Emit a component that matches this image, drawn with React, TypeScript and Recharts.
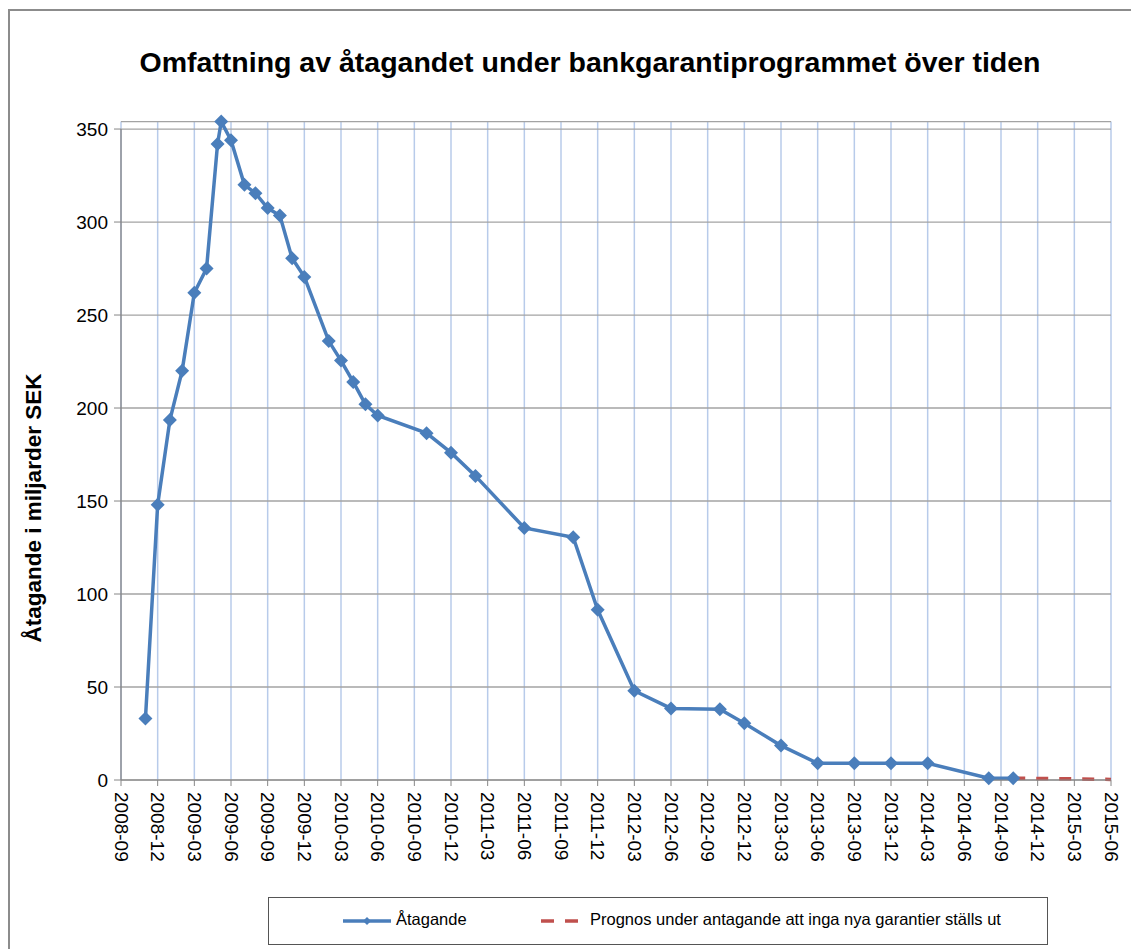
import React from 'react'
import {
  LineChart,
  Line,
  XAxis,
  YAxis,
  CartesianGrid,
  ReferenceLine
} from 'recharts'

// keep the page from getting scrollbars (frame runs to the window edge)
if (typeof document !== 'undefined') {
  document.documentElement.style.overflow = 'hidden'
}

// months counted from 2008-09
const atagandeMonths = [
  2, 3, 4, 5, 6, 7, 7.9, 8.2, 9, 10.1, 11, 12, 13, 14, 15, 17, 18, 19, 20, 21,
  25, 27, 29, 33, 37, 39, 42, 45, 49, 51, 54, 57, 60, 63, 66, 71, 73
]
const atagandeValues = [
  33, 148, 193.5, 220, 262, 275, 342, 354, 344, 320, 315.5, 307.5, 303.5,
  280.5, 270.5, 236, 225.5, 214, 202, 196, 186.5, 176, 163.5, 135.5, 130.5,
  91.5, 48, 38.5, 38, 30.5, 18.5, 9, 9, 9, 9, 1, 1
]

const prognosMonths = [73, 75, 78, 81]
const prognosValues = [1, 0.8, 0.6, 0.3]

const tickLabels = [
  '2008-09', '2008-12', '2009-03', '2009-06', '2009-09', '2009-12',
  '2010-03', '2010-06', '2010-09', '2010-12', '2011-03', '2011-06',
  '2011-09', '2011-12', '2012-03', '2012-06', '2012-09', '2012-12',
  '2013-03', '2013-06', '2013-09', '2013-12', '2014-03', '2014-06',
  '2014-09', '2014-12', '2015-03', '2015-06'
]
const yTicks = [0, 50, 100, 150, 200, 250, 300, 350]

const BLUE = '#4a7ebb'
const RED = '#c0504d'
const FONT = '"Liberation Sans", Arial, sans-serif'

const atagandeData = atagandeMonths.map((m, i) => ({ m, v: atagandeValues[i] }))
const prognosData = prognosMonths.map((m, i) => ({ m, v: prognosValues[i] }))
const xTicks = tickLabels.map((_, i) => i * 3)

const Diamond = (props: any) => {
  const { cx, cy } = props
  if (cx == null || cy == null) return null
  const r = 7
  return (
    <polygon
      points={`${cx},${cy - r} ${cx + r},${cy} ${cx},${cy + r} ${cx - r},${cy}`}
      fill={BLUE}
    />
  )
}

const XTick = (props: any) => {
  const { x, y, payload } = props
  const ty = y + 4
  return (
    <text
      x={x}
      y={ty}
      transform={`rotate(90, ${x}, ${ty})`}
      textAnchor="start"
      dominantBaseline="central"
      fontSize={19}
      fontFamily={FONT}
      fill="#000"
    >
      {tickLabels[Math.round(payload.value / 3)]}
    </text>
  )
}

const YLabel = () => (
  <text
    x={25}
    y={500}
    transform="rotate(-90, 25, 500)"
    textAnchor="middle"
    dominantBaseline="central"
    fontSize={22.5}
    fontWeight="bold"
    fontFamily={FONT}
    fill="#000"
  >
    Åtagande i miljarder SEK
  </text>
)

const App = () => {
  return (
    <div style={{ position: 'relative', width: 1131, height: 941, fontFamily: FONT }}>
      {/* outer frame, only left and top edges are visible */}
      <div
        style={{
          position: 'absolute',
          left: 0,
          top: 1,
          width: 1131,
          height: 940,
          borderLeft: '2px solid #8c8c8c',
          borderTop: '2px solid #8c8c8c',
          boxSizing: 'border-box'
        }}
      />
      <div
        style={{
          position: 'absolute',
          left: 82,
          top: 37,
          width: 1000,
          textAlign: 'center',
          fontSize: 28.5,
          fontWeight: 'bold',
          lineHeight: '34px',
          whiteSpace: 'nowrap'
        }}
      >
        Omfattning av åtagandet under bankgarantiprogrammet över tiden
      </div>
      <div style={{ position: 'absolute', left: 0, top: 0 }}>
        <LineChart
          width={1131}
          height={870}
          margin={{ top: 113.6, right: 28, bottom: 8, left: 53 }}
        >
          <CartesianGrid horizontal={false} stroke="#b8cbea" strokeWidth={1.5} />
          <CartesianGrid vertical={false} stroke="#a3a3a3" strokeWidth={1.3} />
          <XAxis
            type="number"
            dataKey="m"
            domain={[0, 81]}
            ticks={xTicks}
            interval={0}
            height={90}
            stroke="#868686"
            tickSize={6}
            tick={<XTick />}
          />
          <YAxis
            type="number"
            domain={[0, 354]}
            ticks={yTicks}
            width={60}
            axisLine={false}
            tickSize={7}
            tickMargin={6}
            tickLine={{ stroke: '#868686' }}
            tick={{ fontSize: 19, fill: '#000', fontFamily: FONT }}
            label={{ content: () => <YLabel /> }}
          />
          <ReferenceLine
            segment={[{ x: 0, y: 0 }, { x: 0, y: 350 }]}
            stroke="#868686"
            strokeWidth={1.3}
          />
          <Line
            data={prognosData}
            dataKey="v"
            stroke={RED}
            strokeWidth={3.5}
            strokeDasharray="12 11"
            dot={false}
            isAnimationActive={false}
          />
          <Line
            data={atagandeData}
            dataKey="v"
            stroke={BLUE}
            strokeWidth={3.5}
            dot={<Diamond />}
            activeDot={false}
            isAnimationActive={false}
          />
        </LineChart>
      </div>
      {/* legend */}
      <div
        style={{
          position: 'absolute',
          left: 260,
          top: 889,
          width: 780,
          height: 48,
          border: '1px solid #555',
          boxSizing: 'border-box',
          fontSize: 16.5,
          color: '#000'
        }}
      >
        <svg
          width={60}
          height={16}
          style={{ position: 'absolute', left: 72, top: 15 }}
        >
          <line x1={2} y1={8} x2={50} y2={8} stroke={BLUE} strokeWidth={3.5} />
          <polygon points="26,4 30,8 26,12 22,8" fill={BLUE} />
        </svg>
        <span style={{ position: 'absolute', left: 127, top: 12 }}>Åtagande</span>
        <svg
          width={40}
          height={16}
          style={{ position: 'absolute', left: 272, top: 15 }}
        >
          <line
            x1={0}
            y1={8}
            x2={38}
            y2={8}
            stroke={RED}
            strokeWidth={3.5}
            strokeDasharray="13 11"
          />
        </svg>
        <span style={{ position: 'absolute', left: 321, top: 12 }}>
          Prognos under antagande att inga nya garantier ställs ut
        </span>
      </div>
    </div>
  )
}

export default App
